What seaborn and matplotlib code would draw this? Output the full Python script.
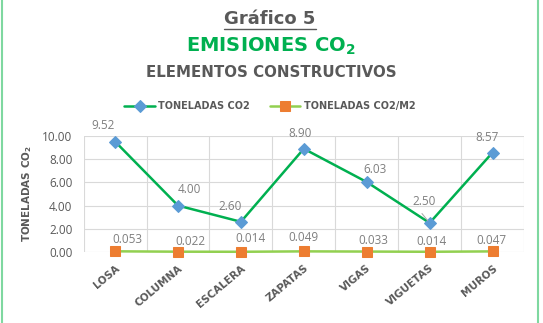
import matplotlib

matplotlib.use("Agg")
import matplotlib.pyplot as plt
import seaborn as sns
from matplotlib.lines import Line2D

# data
elementos = ["LOSA", "COLUMNA", "ESCALERA", "ZAPATAS", "VIGAS", "VIGUETAS", "MUROS"]
toneladas_co2 = [9.52, 4.00, 2.60, 8.90, 6.03, 2.50, 8.57]
toneladas_co2_m2 = [0.053, 0.022, 0.014, 0.049, 0.033, 0.014, 0.047]
y_ticks = [0, 2, 4, 6, 8, 10]

# label offsets (points) for the data labels
offsets_co2 = [(-9, 7), (8, 7), (-8, 6), (-3, 6), (6, 4), (-4, 11), (-4, 6)]
offsets_m2 = [(9, 4), (9, 3), (7, 5), (0, 5), (5, 3), (1, 3), (-1, 3)]

GREY = "#595959"
LABEL_GREY = "#7F7F7F"
BOLD_FONT = ["DejaVu Sans"]

sns.set_theme(style="white")
plt.rcParams["font.family"] = ["Open Sans", "DejaVu Sans"]
plt.rcParams["mathtext.fontset"] = "custom"
plt.rcParams["mathtext.rm"] = "DejaVu Sans"
plt.rcParams["mathtext.bf"] = "DejaVu Sans:bold"

fig = plt.figure(figsize=(5.43, 3.23), dpi=100)
ax = fig.add_axes([0.154, 0.220, 0.811, 0.359])

x = list(range(len(elementos)))
sns.lineplot(x=x, y=toneladas_co2, ax=ax, color="#00B050", linewidth=1.8,
             marker="D", markersize=6, markerfacecolor="#5B9BD5",
             markeredgecolor="#5B9BD5", label="TONELADAS CO2", clip_on=False, zorder=3)
sns.lineplot(x=x, y=toneladas_co2_m2, ax=ax, color="#92D050", linewidth=1.8,
             marker="s", markersize=7, markerfacecolor="#ED7D31",
             markeredgecolor="#ED7D31", label="TONELADAS CO2/M2", clip_on=False, zorder=3)

for i, v in enumerate(toneladas_co2):
    ax.annotate(f"{v:.2f}", (i, v), xytext=offsets_co2[i], textcoords="offset points",
                ha="center", va="bottom", fontsize=8.5, color=LABEL_GREY)
for i, v in enumerate(toneladas_co2_m2):
    ax.annotate(f"{v:.3f}", (i, v), xytext=offsets_m2[i], textcoords="offset points",
                ha="center", va="bottom", fontsize=8.5, color=LABEL_GREY)
# small leader line for the VIGUETAS label
ax.annotate("", (5, 2.50), xytext=(4.85, 3.5),
            arrowprops=dict(arrowstyle="-", color="#A6A6A6", lw=0.7))

ax.set_xlim(-0.5, 6.5)
ax.set_ylim(0, 10)
ax.set_yticks(y_ticks)
ax.set_yticklabels([f"{t:.2f}" for t in y_ticks], fontsize=8.5, color=GREY)
ax.set_xticks(x)
ax.set_xticklabels(elementos, rotation=40, ha="right", rotation_mode="anchor",
                   fontsize=7.5, fontweight="bold", color=GREY, family=BOLD_FONT)
ax.tick_params(axis="x", length=0, pad=8)
ax.tick_params(axis="y", length=0, pad=8)

# gridlines: horizontal on ticks, vertical on category boundaries
for t in y_ticks:
    ax.axhline(t, color="#D9D9D9", linewidth=0.8, zorder=0)
for b in [i - 0.5 for i in range(len(elementos) + 1)]:
    ax.axvline(b, color="#D9D9D9", linewidth=0.8, zorder=0)
for s in ax.spines.values():
    s.set_visible(False)

ax.set_ylabel("TONELADAS CO$_\\mathbf{2}$", fontsize=7.5, fontweight="bold", color=GREY,
              family=BOLD_FONT, labelpad=6)

ax.legend(loc="center", bbox_to_anchor=(0.497, 0.672), bbox_transform=fig.transFigure,
          ncol=2, frameon=False, handlelength=3.1, handletextpad=0.4, columnspacing=2.0,
          prop={"weight": "bold", "size": 7, "family": BOLD_FONT})
for txt in ax.get_legend().get_texts():
    txt.set_color(GREY)

# titles
fig.text(0.497, 0.941, "Gráfico 5", ha="center", va="center", fontsize=13,
         fontweight="bold", color=GREY, family=BOLD_FONT)
fig.add_artist(Line2D([224 / 543, 316 / 543], [1 - 29 / 323, 1 - 29 / 323],
                      color=GREY, linewidth=1.0))
fig.text(0.499, 0.858, "EMISIONES CO$_\\mathbf{2}$", ha="center", va="center",
         fontsize=14, fontweight="bold", color="#00B050", family=BOLD_FONT)
fig.text(0.499, 0.774, "ELEMENTOS CONSTRUCTIVOS", ha="center", va="center",
         fontsize=10.8, fontweight="bold", color=GREY, family=BOLD_FONT)

# light green frame lines at the left and right edges
fig.add_artist(Line2D([1.5 / 543, 1.5 / 543], [0, 1], color="#7FD8A0", linewidth=1.5))
fig.add_artist(Line2D([538 / 543, 538 / 543], [0, 1], color="#7FD8A0", linewidth=1.5))

plt.savefig("out.png", dpi=100)
plt.close()
